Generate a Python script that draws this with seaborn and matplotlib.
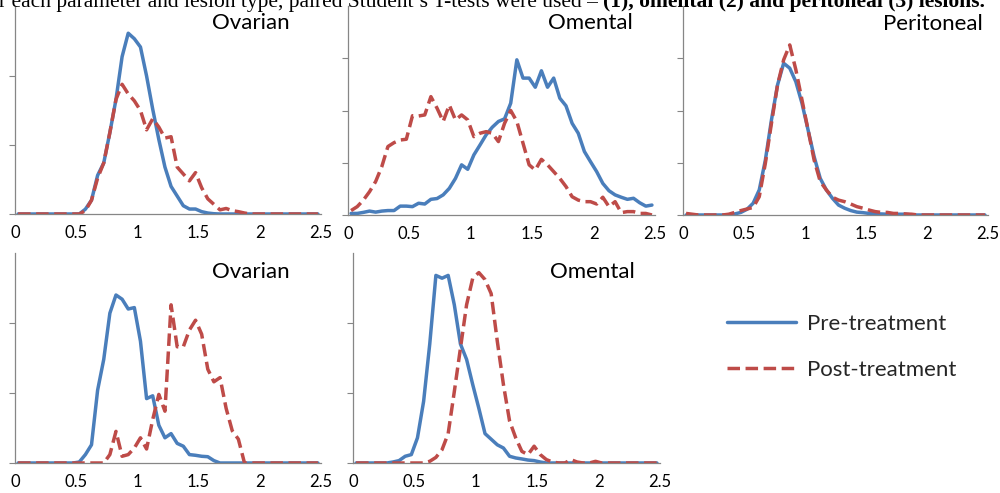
import numpy as np
import pandas as pd
import matplotlib
matplotlib.use("Agg")
import matplotlib.pyplot as plt
import seaborn as sns

# ---------------- data ----------------
x_bins = [0.025, 0.075, 0.125, 0.175, 0.225, 0.275, 0.325, 0.375, 0.425, 0.475,
          0.525, 0.575, 0.625, 0.675, 0.725, 0.775, 0.825, 0.875, 0.925, 0.975,
          1.025, 1.075, 1.125, 1.175, 1.225, 1.275, 1.325, 1.375, 1.425, 1.475,
          1.525, 1.575, 1.625, 1.675, 1.725, 1.775, 1.825, 1.875, 1.925, 1.975,
          2.025, 2.075, 2.125, 2.175, 2.225, 2.275, 2.325, 2.375, 2.425, 2.475]

ovarian1_pre = [0, 0, 0, 0, 0, 0, 0, 0, 0, 0,
                0, 0.35, 1.0, 2.8, 3.7, 5.9, 8.3, 11.4, 13.1, 12.7,
                12.1, 10.0, 7.6, 5.4, 3.4, 2.0, 1.3, 0.6, 0.36, 0.36,
                0.17, 0.07, 0.02, 0, 0, 0, 0, 0, 0, 0,
                0, 0, 0, 0, 0, 0, 0, 0, 0, 0]
ovarian1_post = [0, 0, 0, 0, 0, 0, 0, 0, 0, 0,
                 0, 0.24, 1.0, 2.6, 3.7, 5.9, 8.3, 9.4, 8.7, 8.2,
                 7.5, 6.1, 6.9, 6.3, 5.5, 5.6, 3.4, 2.9, 2.4, 3.0,
                 1.9, 1.1, 0.7, 0.3, 0.4, 0.24, 0.17, 0.07, 0, 0,
                 0, 0, 0, 0, 0, 0, 0, 0, 0, 0]

omental1_pre = [0.06, 0.06, 0.1, 0.15, 0.11, 0.15, 0.17, 0.17, 0.34, 0.34,
                0.32, 0.45, 0.42, 0.6, 0.63, 0.77, 1.02, 1.4, 1.92, 1.75,
                2.3, 2.68, 3.07, 3.36, 3.58, 3.68, 4.28, 5.94, 5.24, 5.24,
                4.89, 5.52, 4.89, 5.24, 4.47, 4.18, 3.51, 3.13, 2.43, 2.04,
                1.66, 1.21, 0.93, 0.77, 0.68, 0.6, 0.64, 0.47, 0.34, 0.38]
omental1_post = [0.17, 0.32, 0.57, 0.89, 1.28, 1.85, 2.62, 2.77, 2.87, 2.9,
                 3.8, 3.79, 3.83, 4.53, 4.09, 3.58, 4.21, 3.64, 3.83, 3.64,
                 3.0, 3.13, 3.19, 3.13, 2.81, 3.51, 4.0, 3.58, 2.75, 1.92,
                 1.72, 2.13, 1.92, 1.66, 1.4, 1.09, 0.7, 0.57, 0.51, 0.51,
                 0.42, 0.68, 0.32, 0.51, 0.09, 0.13, 0.13, 0.06, 0.06, 0.0]

peritoneal_pre = [0, 0, 0, 0, 0, 0, 0, 0, 0.04, 0.1,
                  0.22, 0.45, 0.96, 2.1, 3.64, 4.98, 5.81, 5.62, 5.1, 4.28,
                  3.26, 2.23, 1.4, 0.96, 0.64, 0.38, 0.26, 0.17, 0.11, 0.09,
                  0.06, 0.05, 0.04, 0.03, 0.03, 0.03, 0.03, 0, 0, 0,
                  0, 0, 0, 0, 0, 0, 0, 0, 0, 0]
peritoneal_post = [0.06, 0.03, 0, 0, 0, 0, 0, 0.03, 0.1, 0.17,
                   0.23, 0.29, 0.7, 1.98, 3.51, 4.98, 5.94, 6.51, 5.56, 4.41,
                   3.26, 2.1, 1.28, 0.96, 0.68, 0.57, 0.51, 0.42, 0.32, 0.26,
                   0.19, 0.13, 0.1, 0.1, 0.06, 0.06, 0.04, 0.03, 0, 0,
                   0, 0, 0, 0, 0, 0, 0, 0, 0, 0]

ovarian2_pre = [0, 0, 0, 0, 0, 0, 0, 0, 0, 0,
                0.07, 0.6, 1.3, 5.2, 7.4, 10.7, 12.0, 11.7, 11.0, 11.1,
                8.7, 4.6, 4.8, 2.7, 1.8, 2.1, 1.4, 1.2, 0.6, 0.55,
                0.48, 0.45, 0.17, 0, 0, 0, 0, 0, 0, 0,
                0, 0, 0, 0, 0, 0, 0, 0, 0, 0]
ovarian2_post = [0, 0, 0, 0, 0, 0, 0, 0, 0, 0,
                 0, 0, 0, 0, 0, 0.6, 2.26, 0.48, 0.6, 1.07,
                 1.8, 1.0, 3.1, 4.9, 3.7, 11.3, 8.3, 8.3, 9.5, 10.2,
                 9.2, 6.7, 5.8, 6.1, 3.9, 2.3, 1.7, 0, 0, 0,
                 0, 0, 0, 0, 0, 0, 0, 0, 0, 0]

omental2_pre = [0, 0, 0, 0, 0, 0, 0.07, 0.17, 0.48, 0.6,
                1.8, 4.4, 8.5, 13.4, 13.2, 13.4, 11.3, 8.5, 7.4, 5.6,
                3.9, 2.1, 1.7, 1.3, 1.07, 0.48, 0.36, 0.29, 0.21, 0.17,
                0.07, 0, 0, 0, 0, 0, 0, 0, 0, 0,
                0, 0, 0, 0, 0, 0, 0, 0, 0, 0]
omental2_post = [0, 0, 0, 0, 0, 0, 0, 0, 0, 0,
                 0, 0, 0.12, 0.4, 0.95, 2.1, 5.1, 8.2, 11.3, 13.2,
                 13.6, 13.1, 12.1, 8.7, 5.6, 3.0, 1.8, 0.83, 0.6, 1.2,
                 0.6, 0.24, 0.07, 0, 0, 0.24, 0.07, 0, 0, 0.12,
                 0, 0, 0, 0, 0, 0, 0, 0, 0, 0]

panel_titles = ["Ovarian", "Omental", "Peritoneal", "Ovarian", "Omental"]
series_labels = ["Pre-treatment", "Post-treatment"]
x_ticks = [0, 0.5, 1, 1.5, 2, 2.5]
x_tick_labels = ["0", "0.5", "1", "1.5", "2", "2.5"]
header_normal = "r each parameter and lesion type, paired Student\u2019s T-tests were used \u2013 "
header_bold = "(1), omental (2) and peritoneal (3) lesions."

# ---------------- style ----------------
sns.set_theme(style="white")
plt.rcParams["font.family"] = ["Lato", "DejaVu Sans"]

W, H = 1000, 493
fig = plt.figure(figsize=(W / 100, H / 100), dpi=100)
fig.patch.set_facecolor("white")

BLUE = "#4A7EBB"
RED = "#BE4B48"
AXIS_GRAY = "#868686"

def px_axes(left, right, bottom, top):
    return fig.add_axes([left / W, 1 - bottom / H, (right - left) / W, (bottom - top) / H])

panels = [
    # (left, right, bottom px, top px, ymax, yticks, pre, post, title pos)
    (15, 321, 214, 7, 15, [0, 5, 10], ovarian1_pre, ovarian1_post, (290, 23)),
    (348, 655, 215, 6, 8, [0, 2, 4, 6], omental1_pre, omental1_post, (633, 23)),
    (683, 988, 215, 6, 8, [0, 2, 4, 6], peritoneal_pre, peritoneal_post, (983, 24)),
    (15, 321, 463, 253, 15, [0, 5, 10], ovarian2_pre, ovarian2_post, (290, 272)),
    (353, 660, 463, 253, 15, [0, 5, 10], omental2_pre, omental2_post, (635, 272)),
]

handles = None
for i, (l, r, b, t, ymax, yt, pre, post, tpos) in enumerate(panels):
    ax = px_axes(l, r, b, t)
    df = pd.DataFrame({"x": x_bins, "pre": pre, "post": post})
    sns.lineplot(data=df, x="x", y="pre", ax=ax, color=BLUE, linewidth=2.5,
                 label=series_labels[0], errorbar=None)
    sns.lineplot(data=df, x="x", y="post", ax=ax, color=RED, linewidth=2.5,
                 linestyle=(0, (3.6, 1.6)), label=series_labels[1], errorbar=None)
    ax.set_xlim(0, 2.5)
    ax.set_ylim(0, ymax)
    ax.set_xticks(x_ticks)
    ax.set_xticklabels(x_tick_labels)
    ax.set_yticks(yt)
    ax.set_yticklabels([])
    ax.set_xlabel("")
    ax.set_ylabel("")
    for s in ["top", "right"]:
        ax.spines[s].set_visible(False)
    for s in ["left", "bottom"]:
        ax.spines[s].set_color(AXIS_GRAY)
        ax.spines[s].set_linewidth(0.9)
    ax.tick_params(axis="x", length=0, pad=8, labelsize=12, labelcolor="black")
    ax.tick_params(axis="y", direction="out", length=4, width=0.8, color=AXIS_GRAY, left=True)
    ax.set_facecolor("none")
    if handles is None:
        handles, labs = ax.get_legend_handles_labels()
    ax.get_legend().remove()
    fig.text(tpos[0] / W, 1 - tpos[1] / H, panel_titles[i], ha="right", va="center",
             fontsize=16, color="black")

fig.legend(handles, series_labels, loc="center left", bbox_to_anchor=(0.727, 1 - 347 / H),
           frameon=False, handlelength=3.1, handletextpad=0.5, labelspacing=1.15,
           fontsize=16, borderpad=0, borderaxespad=0)

# cropped header sentence at the very top
renderer = fig.canvas.get_renderer()
hy = 1 - 7 / H
t1 = fig.text(-0.001, hy, header_normal, fontfamily=["Liberation Serif", "DejaVu Serif"],
              fontsize=15.5, va="baseline", ha="left", color="black")
bb = t1.get_window_extent(renderer)
fig.text(bb.x1 / W, hy, header_bold, fontfamily=["Liberation Serif", "DejaVu Serif"],
         fontsize=15.5, fontweight="bold", va="baseline", ha="left", color="black")

fig.savefig("out.png", dpi=100)
